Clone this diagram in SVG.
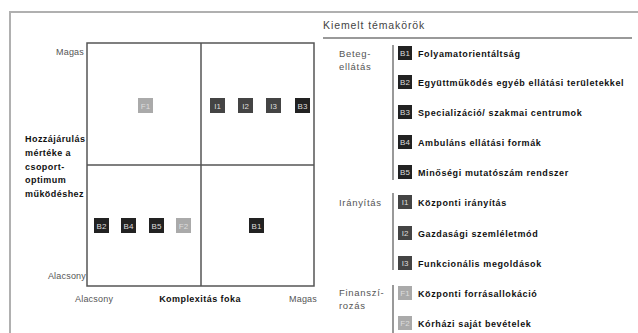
<svg xmlns="http://www.w3.org/2000/svg" width="638" height="333" viewBox="0 0 638 333">
<style>
text{font-family:"Liberation Sans",Arial,sans-serif}
.lbl{font-size:9px;fill:#555;letter-spacing:0.2px}
.cat{font-size:9.5px;fill:#555;letter-spacing:0.7px}
.bold{font-size:9px;font-weight:bold;fill:#111;letter-spacing:0.45px}
.item{font-size:9px;font-weight:bold;fill:#111;letter-spacing:0.6px}
.sq text.c{font-size:8px;fill:#ddd;text-anchor:middle}
.B{fill:#222}
.I{fill:#444}
.F{fill:#aaa}
.grid{stroke:#555;stroke-width:1.5;fill:none}
.sep{stroke:#999;stroke-width:2}
</style>
<rect width="638" height="333" fill="#fff"/>
<g id="frame">
<path d="M10,333 V12 H638" fill="none" stroke="#b0b0b0" stroke-width="2"/>
</g>
<g id="matrix">
<rect class="grid" x="87" y="43" width="227" height="243"/>
<line class="grid" x1="201" y1="43" x2="201" y2="286"/>
<line class="grid" x1="87" y1="165" x2="314" y2="165"/>
</g>
<g id="axis-labels">
<text class="lbl" x="84" y="55" text-anchor="end">Magas</text>
<text class="lbl" x="86" y="279" text-anchor="end">Alacsony</text>
<text class="lbl" x="75" y="302">Alacsony</text>
<text class="bold" x="200" y="302" text-anchor="middle">Komplexitás foka</text>
<text class="lbl" x="317" y="302" text-anchor="end">Magas</text>
<text class="bold" x="25"><tspan x="25" y="142">Hozzájárulás</tspan><tspan x="25" y="156">mértéke a</tspan><tspan x="25" y="170">csoport-</tspan><tspan x="25" y="183">optimum</tspan><tspan x="25" y="197">működéshez</tspan></text>
</g>
<g id="node-F1" class="sq"><rect class="F" x="138" y="98" width="15" height="15"/><text class="c" x="145.5" y="108.5">F1</text></g>
<g id="node-I1" class="sq"><rect class="I" x="210" y="98" width="15" height="15"/><text class="c" x="217.5" y="108.5">I1</text></g>
<g id="node-I2" class="sq"><rect class="I" x="238" y="98" width="15" height="15"/><text class="c" x="245.5" y="108.5">I2</text></g>
<g id="node-I3" class="sq"><rect class="I" x="266" y="98" width="15" height="15"/><text class="c" x="273.5" y="108.5">I3</text></g>
<g id="node-B3" class="sq"><rect class="B" x="295" y="98" width="15" height="15"/><text class="c" x="302.5" y="108.5">B3</text></g>
<g id="node-B2" class="sq"><rect class="B" x="94" y="218" width="15" height="15"/><text class="c" x="101.5" y="228.5">B2</text></g>
<g id="node-B4" class="sq"><rect class="B" x="121" y="218" width="15" height="15"/><text class="c" x="128.5" y="228.5">B4</text></g>
<g id="node-B5" class="sq"><rect class="B" x="149" y="218" width="15" height="15"/><text class="c" x="156.5" y="228.5">B5</text></g>
<g id="node-F2" class="sq"><rect class="F" x="176" y="218" width="15" height="15"/><text class="c" x="183.5" y="228.5">F2</text></g>
<g id="node-B1" class="sq"><rect class="B" x="249" y="218" width="15" height="15"/><text class="c" x="256.5" y="228.5">B1</text></g>
<g id="legend">
<text x="323" y="29" style="font-size:10.5px;fill:#444;letter-spacing:0.9px">Kiemelt témakörök</text>
<line x1="323" y1="38" x2="632" y2="38" stroke="#999" stroke-width="2"/>
<text class="cat" x="339" y="57">Beteg-</text>
<text class="cat" x="339" y="70">ellátás</text>
<text class="cat" x="339" y="206">Irányítás</text>
<text class="cat" x="339" y="296">Finanszí-</text>
<text class="cat" x="339" y="309">rozás</text>
<line class="sep" x1="393" y1="45" x2="393" y2="180"/>
<line class="sep" x1="393" y1="193" x2="393" y2="270"/>
<line class="sep" x1="393" y1="285" x2="393" y2="333"/>
</g>
<g id="legend-B1" class="sq"><rect class="B" x="398" y="46" width="14" height="14"/><text class="c" x="405" y="56">B1</text><text class="item" x="418" y="57">Folyamatorientáltság</text></g>
<g id="legend-B2" class="sq"><rect class="B" x="398" y="75" width="14" height="14"/><text class="c" x="405" y="85">B2</text><text class="item" x="418" y="86">Együttműködés egyéb ellátási területekkel</text></g>
<g id="legend-B3" class="sq"><rect class="B" x="398" y="105" width="14" height="14"/><text class="c" x="405" y="115">B3</text><text class="item" x="418" y="116">Specializáció/ szakmai centrumok</text></g>
<g id="legend-B4" class="sq"><rect class="B" x="398" y="135" width="14" height="14"/><text class="c" x="405" y="145">B4</text><text class="item" x="418" y="146">Ambuláns ellátási formák</text></g>
<g id="legend-B5" class="sq"><rect class="B" x="398" y="165" width="14" height="14"/><text class="c" x="405" y="175">B5</text><text class="item" x="418" y="176">Minőségi mutatószám rendszer</text></g>
<g id="legend-I1" class="sq"><rect class="I" x="398" y="195" width="14" height="14"/><text class="c" x="405" y="205">I1</text><text class="item" x="418" y="206">Központi irányítás</text></g>
<g id="legend-I2" class="sq"><rect class="I" x="398" y="226" width="14" height="14"/><text class="c" x="405" y="236">I2</text><text class="item" x="418" y="237">Gazdasági szemléletmód</text></g>
<g id="legend-I3" class="sq"><rect class="I" x="398" y="256" width="14" height="14"/><text class="c" x="405" y="266">I3</text><text class="item" x="418" y="267">Funkcionális megoldások</text></g>
<g id="legend-F1" class="sq"><rect class="F" x="398" y="286" width="14" height="14"/><text class="c" x="405" y="296">F1</text><text class="item" x="418" y="297">Központi forrásallokáció</text></g>
<g id="legend-F2" class="sq"><rect class="F" x="398" y="316" width="14" height="14"/><text class="c" x="405" y="326">F2</text><text class="item" x="418" y="327">Kórházi saját bevételek</text></g>
</svg>
